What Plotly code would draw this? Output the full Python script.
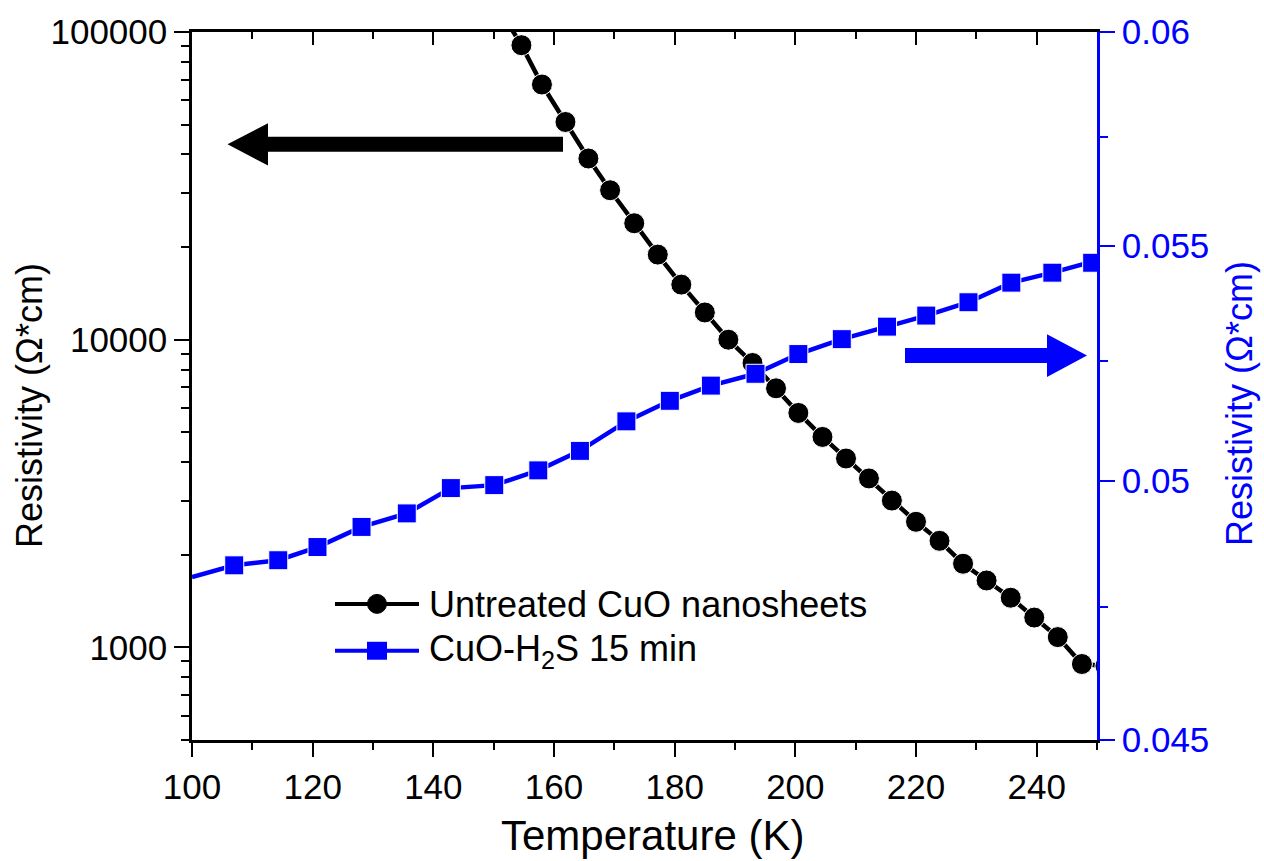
import plotly.graph_objects as go

# ---------------- data ----------------
temp_untreated = [150.7, 154.6, 158.0, 161.9, 165.7, 169.3, 173.3, 177.2, 181.1, 185.0,
                  188.9, 192.9, 196.8, 200.5, 204.5, 208.4, 212.2, 216.0, 220.0, 223.9,
                  227.8, 231.7, 235.7, 239.6, 243.5, 247.5, 251.4]
rho_untreated = [121000, 90600, 67500, 51000, 38800, 30600, 23900, 18900, 15100, 12260,
                 10000, 8400, 6950, 5780, 4830, 4110, 3540, 3000, 2560, 2220,
                 1870, 1650, 1450, 1250, 1080, 883, 870]

temp_h2s = [100.0, 107.0, 114.3, 120.8, 128.1, 135.6, 142.9, 150.1, 157.4, 164.3,
            172.0, 179.2, 186.0, 193.4, 200.5, 207.7, 215.2, 221.7, 228.7, 235.8,
            242.6, 249.2, 250.0]
rho_h2s = [0.04808, 0.04831, 0.04841, 0.04867, 0.04907, 0.04934, 0.04985, 0.04991, 0.05021, 0.05061,
           0.05122, 0.05165, 0.05197, 0.05222, 0.05264, 0.05296, 0.05323, 0.05347, 0.05376, 0.05419,
           0.05441, 0.05463, 0.05468]

x_ticks = [100, 120, 140, 160, 180, 200, 220, 240]
y_left_ticks = [1000, 10000, 100000]
y_left_labels = ["1000", "10000", "100000"]
y_left_minor = [500, 600, 700, 800, 900] + [k * 1000 for k in range(2, 10)] + [k * 10000 for k in range(2, 10)]
y_right_ticks = [0.045, 0.05, 0.055, 0.06]
y_right_labels = ["0.045", "0.05", "0.055", "0.06"]
y_right_minor = [0.0475, 0.0525, 0.0575]

name_untreated = "Untreated CuO nanosheets"
name_h2s = "CuO-H<sub>2</sub>S 15 min"
x_title = "Temperature (K)"
y_title = "Resistivity (\u03a9*cm)"

BLUE = "#0000FF"
FONT = "Arial, Liberation Sans, sans-serif"
FS = 35
FS_YTITLE = 36
FS_XTITLE = 42

# plot area in pixels (for decorations)
L, R, T, B = 192, 1097, 30, 740


def px(xp):
    return (xp - L) / (R - L)


def py(yp):
    return (B - yp) / (B - T)


fig = go.Figure()

sizes_black = [0] + [21] * (len(temp_untreated) - 1)
fig.add_trace(go.Scatter(
    x=temp_untreated, y=rho_untreated, mode="lines+markers", name=name_untreated,
    line=dict(color="black", width=4.5),
    marker=dict(symbol="circle", size=sizes_black, color="black", opacity=1),
    xaxis="x", yaxis="y", showlegend=False))

# invisible trace to activate the mirrored top axis
fig.add_trace(go.Scatter(
    x=[temp_untreated[1]], y=[rho_untreated[1]], mode="markers", marker=dict(opacity=0),
    xaxis="x2", yaxis="y", showlegend=False, hoverinfo="skip"))

sizes_blue = [0] + [19] * (len(temp_h2s) - 2) + [0]
fig.add_trace(go.Scatter(
    x=temp_h2s, y=rho_h2s, mode="lines+markers", name=name_h2s,
    line=dict(color=BLUE, width=4.5),
    marker=dict(symbol="square", size=sizes_blue, color=BLUE, opacity=1),
    xaxis="x", yaxis="y2", showlegend=False))

shapes = []


def poly(points, color):
    d = "M " + " L ".join(f"{px(a):.5f},{py(b):.5f}" for a, b in points) + " Z"
    return dict(type="path", path=d, xref="paper", yref="paper",
                fillcolor=color, line=dict(width=0, color=color), layer="above")


# left-pointing black arrow
shapes.append(poly([(563, 135), (268, 135), (268, 121.5), (227.5, 142.5), (268, 164),
                    (268, 150), (563, 150)], "black"))
# right-pointing blue arrow
shapes.append(poly([(905, 347), (1047, 347), (1047, 333), (1087, 354.5), (1047, 376),
                    (1047, 362), (905, 362)], BLUE))

# manual legend
shapes.append(dict(type="line", xref="paper", yref="paper", x0=px(335), x1=px(419),
                   y0=py(603.5), y1=py(603.5), line=dict(color="black", width=4)))
shapes.append(dict(type="circle", xref="paper", yref="paper", x0=px(367.5), x1=px(386.5),
                   y0=py(594), y1=py(613), fillcolor="black", line=dict(color="black", width=1)))
shapes.append(dict(type="line", xref="paper", yref="paper", x0=px(335), x1=px(419),
                   y0=py(650.5), y1=py(650.5), line=dict(color=BLUE, width=4)))
shapes.append(dict(type="rect", xref="paper", yref="paper", x0=px(367), x1=px(387),
                   y0=py(641.5), y1=py(659.5), fillcolor=BLUE, line=dict(color=BLUE, width=0)))

annotations = [
    dict(text=name_untreated, xref="paper", yref="paper", x=px(427), y=py(604),
         xanchor="left", yanchor="middle", showarrow=False, font=dict(size=36, color="black", family=FONT)),
    dict(text=name_h2s, xref="paper", yref="paper", x=px(427), y=py(651),
         xanchor="left", yanchor="middle", showarrow=False, font=dict(size=36, color="black", family=FONT)),
    # axis titles
    dict(text=x_title, xref="paper", yref="paper", x=px(652), y=py(836),
         xanchor="center", yanchor="middle", showarrow=False, font=dict(size=FS_XTITLE, color="black", family=FONT)),
    dict(text=y_title, xref="paper", yref="paper", x=px(30), y=py(405), textangle=-90,
         xanchor="center", yanchor="middle", showarrow=False, font=dict(size=FS_YTITLE, color="black", family=FONT)),
    dict(text=y_title, xref="paper", yref="paper", x=px(1240), y=py(403), textangle=-90,
         xanchor="center", yanchor="middle", showarrow=False, font=dict(size=FS_YTITLE, color=BLUE, family=FONT)),
]

fig.update_layout(
    width=1264, height=861,
    margin=dict(l=L, r=1264 - R, t=T, b=861 - B),
    paper_bgcolor="white", plot_bgcolor="white",
    font=dict(family=FONT, size=FS, color="black"),
    shapes=shapes, annotations=annotations,
    xaxis=dict(range=[100, 250], tickvals=x_ticks, ticks="outside", ticklen=14, tickwidth=2,
               tickcolor="black", showline=True, linecolor="black", linewidth=2.5,
               showgrid=False, zeroline=False,
               minor=dict(dtick=10, tick0=100, ticks="outside", ticklen=7, tickwidth=2, tickcolor="black", showgrid=False),
               tickfont=dict(size=FS)),
    xaxis2=dict(range=[100, 250], overlaying="x", side="top", anchor="y", tickvals=x_ticks,
                ticks="inside", ticklen=13, tickwidth=2, tickcolor="black", showticklabels=False,
                showline=True, linecolor="black", linewidth=2.5, showgrid=False, zeroline=False,
                minor=dict(dtick=10, tick0=100, ticks="inside", ticklen=7, tickwidth=2, tickcolor="black", showgrid=False)),
    yaxis=dict(type="log", range=[2.69897, 5], tickvals=y_left_ticks, ticktext=y_left_labels,
               ticks="outside", ticklen=15, tickwidth=2, tickcolor="black", showline=True,
               linecolor="black", linewidth=2.5, showgrid=False, zeroline=False,
               minor=dict(tickvals=y_left_minor, ticks="outside", ticklen=8, tickwidth=2, tickcolor="black", showgrid=False),
               tickfont=dict(size=FS)),
    yaxis2=dict(type="log", range=[-1.346787, -1.221849], overlaying="y", side="right", anchor="x",
                tickvals=y_right_ticks, ticktext=y_right_labels, ticks="outside", ticklen=15, tickwidth=2,
                tickcolor=BLUE, showline=True, linecolor=BLUE, linewidth=2.5, showgrid=False, zeroline=False,
                minor=dict(tickvals=y_right_minor, ticks="outside", ticklen=8, tickwidth=2, tickcolor=BLUE, showgrid=False),
                tickfont=dict(size=FS, color=BLUE)),
)

fig.write_html("out.html")
